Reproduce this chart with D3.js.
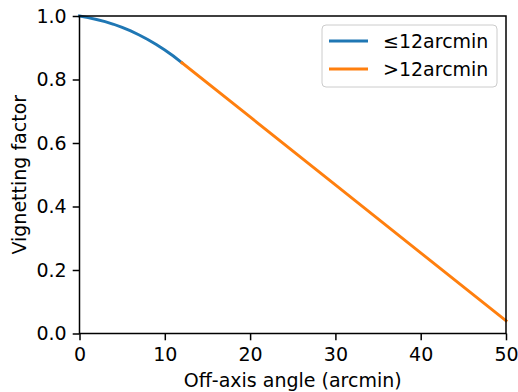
<!DOCTYPE html>
<html>
<head>
<meta charset="utf-8">
<script src="https://cdn.jsdelivr.net/npm/d3@7"></script>
<style>
  body { margin: 0; background: #fff; }
  svg { display: block; font-family: "DejaVu Sans", sans-serif; }
</style>
</head>
<body>
<div id="chart"></div>
<script>
// Vignetting factor vs off-axis angle
const innerAngles = [0, 1, 2, 3, 4, 5, 6, 7, 8, 9, 10, 11, 12];
const innerValues = [1.000, 0.995, 0.989, 0.982, 0.974, 0.964, 0.953, 0.940, 0.926, 0.910, 0.893, 0.874, 0.853];
const outerAngles = [12, 20, 30, 40, 50];
const outerValues = [0.853, 0.682, 0.468, 0.254, 0.040];
const xTicks = [0, 10, 20, 30, 40, 50];
const yTicks = [0.0, 0.2, 0.4, 0.6, 0.8, 1.0];
const seriesNames = ['\u226412arcmin', '>12arcmin'];
const seriesColors = ['#1f77b4', '#ff7f0e'];

const fontSize = '19px';
const width = 518, height = 392;
const margin = { top: 16, right: 12, bottom: 58.5, left: 79.5 };
const innerWidth = width - margin.left - margin.right;
const innerHeight = height - margin.top - margin.bottom;

const svg = d3.select('#chart')
    .append('svg')
    .attr('width', width)
    .attr('height', height);

const g = svg.append('g')
    .attr('transform', `translate(${margin.left},${margin.top})`);

const xScale = d3.scaleLinear().domain([0, 50]).range([0, innerWidth]);
const yScale = d3.scaleLinear().domain([0, 1]).range([innerHeight, 0]);

const line = d3.line()
    .x(d => xScale(d[0]))
    .y(d => yScale(d[1]));

const series = [
    d3.zip(innerAngles, innerValues),
    d3.zip(outerAngles, outerValues)
];

series.forEach((pts, i) => {
    g.append('path')
        .datum(pts)
        .attr('fill', 'none')
        .attr('stroke', seriesColors[i])
        .attr('stroke-width', 2.9)
        .attr('stroke-linecap', 'square')
        .attr('d', line);
});

// axes
const xAxis = g.append('g')
    .attr('transform', `translate(0,${innerHeight})`)
    .call(d3.axisBottom(xScale).tickValues(xTicks).tickSize(6.8).tickPadding(7).tickFormat(d3.format('d')));
const yAxis = g.append('g')
    .call(d3.axisLeft(yScale).tickValues(yTicks).tickSize(6.8).tickPadding(6).tickFormat(d3.format('.1f')));

[xAxis, yAxis].forEach(ax => {
    ax.select('.domain').remove();
    ax.selectAll('line').attr('stroke', '#000').attr('stroke-width', 1.5);
    ax.selectAll('text')
        .attr('fill', '#000')
        .attr('font-size', fontSize)
        .attr('font-family', '"DejaVu Sans", sans-serif');
});

// frame
g.append('rect')
    .attr('width', innerWidth)
    .attr('height', innerHeight)
    .attr('fill', 'none')
    .attr('stroke', '#000')
    .attr('stroke-width', 1.5);

// axis labels
svg.append('text')
    .attr('x', margin.left + innerWidth / 2)
    .attr('y', 386.5)
    .attr('text-anchor', 'middle')
    .attr('font-size', fontSize)
    .text('Off-axis angle (arcmin)');

svg.append('text')
    .attr('transform', 'rotate(-90)')
    .attr('x', -(margin.top + innerHeight / 2))
    .attr('y', 25.5)
    .attr('text-anchor', 'middle')
    .attr('font-size', fontSize)
    .text('Vignetting factor');

// legend
const legend = svg.append('g').attr('transform', 'translate(322,25)');
legend.append('rect')
    .attr('width', 175)
    .attr('height', 62)
    .attr('rx', 4)
    .attr('fill', 'rgba(255,255,255,0.8)')
    .attr('stroke', '#cccccc')
    .attr('stroke-width', 1);

seriesNames.forEach((name, i) => {
    const y = 16 + i * 28;
    legend.append('line')
        .attr('x1', 7).attr('x2', 46)
        .attr('y1', y).attr('y2', y)
        .attr('stroke', seriesColors[i])
        .attr('stroke-width', 2.9);
    legend.append('text')
        .attr('x', 61)
        .attr('y', y)
        .attr('dy', '0.35em')
        .attr('font-size', fontSize)
        .text(name);
});
</script>
</body>
</html>
